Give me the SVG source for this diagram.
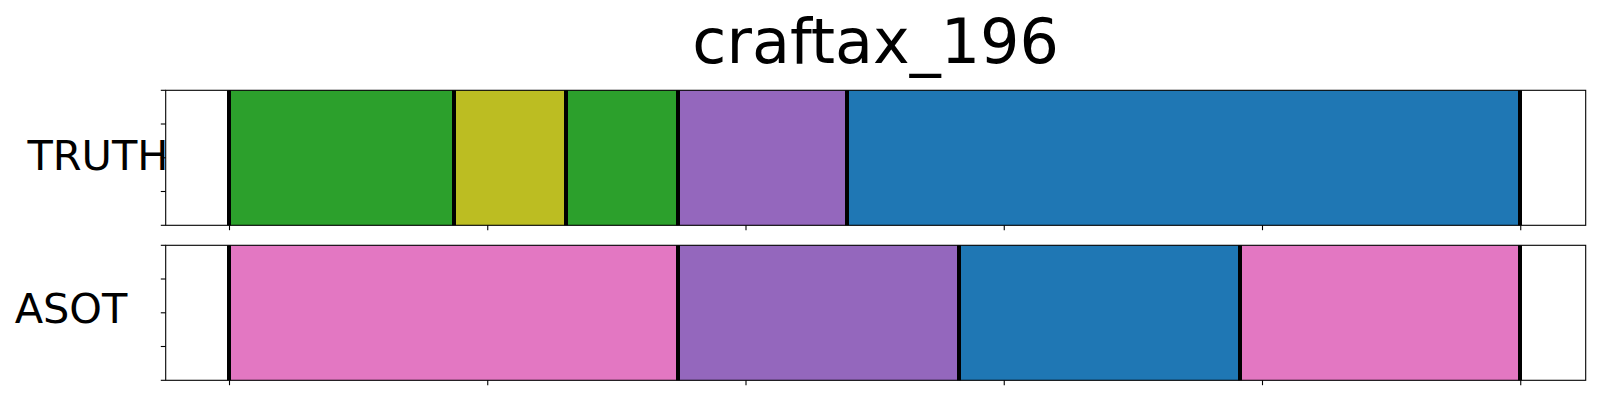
<svg xmlns="http://www.w3.org/2000/svg" width="1600" height="400" viewBox="0 0 1600 400">
<style>
text{font-family:"DejaVu Sans","Liberation Sans",sans-serif;fill:#000}
.title{font-size:62px;text-anchor:middle}
.lab{font-size:41.5px;text-anchor:middle}
.spine{fill:none;stroke:#000;stroke-width:1.1}
.tick{stroke:#000;stroke-width:1.1}
.bd{stroke:#000;stroke-width:4}
.green{fill:#2ca02c}.olive{fill:#bcbd22}.purple{fill:#9467bd}.blue{fill:#1f77b4}.pink{fill:#e377c2}
</style>
<rect width="1600" height="400" fill="#fff"/>
<text class="title" x="875.7" y="63">craftax_196</text>
<g id="truth">
<rect x="165.7" y="90.3" width="1420" height="135" fill="#fff"/>
<rect class="green" x="229" y="90.3" width="225" height="135"/>
<rect class="olive" x="454" y="90.3" width="112" height="135"/>
<rect class="green" x="566" y="90.3" width="112" height="135"/>
<rect class="purple" x="678" y="90.3" width="169" height="135"/>
<rect class="blue" x="847" y="90.3" width="673" height="135"/>
<g>
<line class="bd" x1="229" y1="90.3" x2="229" y2="225.3"/>
<line class="bd" x1="454" y1="90.3" x2="454" y2="225.3"/>
<line class="bd" x1="566" y1="90.3" x2="566" y2="225.3"/>
<line class="bd" x1="678" y1="90.3" x2="678" y2="225.3"/>
<line class="bd" x1="847" y1="90.3" x2="847" y2="225.3"/>
<line class="bd" x1="1520" y1="90.3" x2="1520" y2="225.3"/>
</g>
<rect class="spine" x="165.7" y="90.3" width="1420" height="135"/>
<g>
<line class="tick" x1="160.8" y1="90.3" x2="165.7" y2="90.3"/>
<line class="tick" x1="160.8" y1="124" x2="165.7" y2="124"/>
<line class="tick" x1="160.8" y1="157.8" x2="165.7" y2="157.8"/>
<line class="tick" x1="160.8" y1="191.5" x2="165.7" y2="191.5"/>
<line class="tick" x1="160.8" y1="225.3" x2="165.7" y2="225.3"/>
<line class="tick" x1="229.5" y1="225.3" x2="229.5" y2="230.2"/>
<line class="tick" x1="487.75" y1="225.3" x2="487.75" y2="230.2"/>
<line class="tick" x1="746" y1="225.3" x2="746" y2="230.2"/>
<line class="tick" x1="1004.25" y1="225.3" x2="1004.25" y2="230.2"/>
<line class="tick" x1="1262.5" y1="225.3" x2="1262.5" y2="230.2"/>
<line class="tick" x1="1520.75" y1="225.3" x2="1520.75" y2="230.2"/>
</g>
<text class="lab" x="98" y="170">TRUTH</text>
</g>
<g id="asot">
<rect x="165.7" y="245.3" width="1420" height="135" fill="#fff"/>
<rect class="pink" x="229" y="245.3" width="449" height="135"/>
<rect class="purple" x="678" y="245.3" width="281" height="135"/>
<rect class="blue" x="959" y="245.3" width="281" height="135"/>
<rect class="pink" x="1240" y="245.3" width="280" height="135"/>
<g>
<line class="bd" x1="229" y1="245.3" x2="229" y2="380.3"/>
<line class="bd" x1="678" y1="245.3" x2="678" y2="380.3"/>
<line class="bd" x1="959" y1="245.3" x2="959" y2="380.3"/>
<line class="bd" x1="1240" y1="245.3" x2="1240" y2="380.3"/>
<line class="bd" x1="1520" y1="245.3" x2="1520" y2="380.3"/>
</g>
<rect class="spine" x="165.7" y="245.3" width="1420" height="135"/>
<g>
<line class="tick" x1="160.8" y1="245.3" x2="165.7" y2="245.3"/>
<line class="tick" x1="160.8" y1="279" x2="165.7" y2="279"/>
<line class="tick" x1="160.8" y1="312.8" x2="165.7" y2="312.8"/>
<line class="tick" x1="160.8" y1="346.5" x2="165.7" y2="346.5"/>
<line class="tick" x1="160.8" y1="380.3" x2="165.7" y2="380.3"/>
<line class="tick" x1="229.5" y1="380.3" x2="229.5" y2="385.2"/>
<line class="tick" x1="487.75" y1="380.3" x2="487.75" y2="385.2"/>
<line class="tick" x1="746" y1="380.3" x2="746" y2="385.2"/>
<line class="tick" x1="1004.25" y1="380.3" x2="1004.25" y2="385.2"/>
<line class="tick" x1="1262.5" y1="380.3" x2="1262.5" y2="385.2"/>
<line class="tick" x1="1520.75" y1="380.3" x2="1520.75" y2="385.2"/>
</g>
<text class="lab" x="71" y="323.3">ASOT</text>
</g>
</svg>
